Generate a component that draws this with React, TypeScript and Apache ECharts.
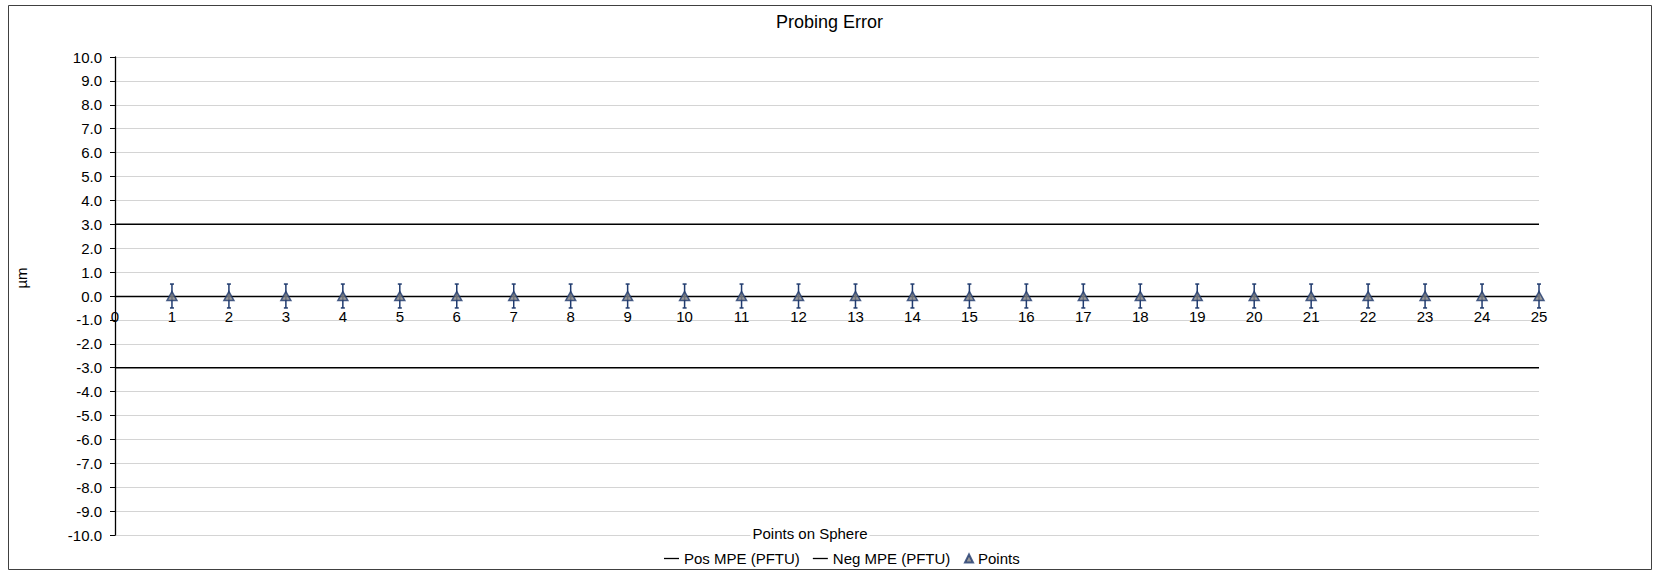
import React, { useEffect, useRef } from "react";
import * as echarts from "echarts";

// ---- data ----
const pointsX = [1, 2, 3, 4, 5, 6, 7, 8, 9, 10, 11, 12, 13, 14, 15, 16, 17, 18, 19, 20, 21, 22, 23, 24, 25];
const pointsY = [0, 0, 0, 0, 0, 0, 0, 0, 0, 0, 0, 0, 0, 0, 0, 0, 0, 0, 0, 0, 0, 0, 0, 0, 0];
const errPlus = [0.5, 0.5, 0.5, 0.5, 0.5, 0.5, 0.5, 0.5, 0.5, 0.5, 0.5, 0.5, 0.5, 0.5, 0.5, 0.5, 0.5, 0.5, 0.5, 0.5, 0.5, 0.5, 0.5, 0.5, 0.5];
const errMinus = [0.5, 0.5, 0.5, 0.5, 0.5, 0.5, 0.5, 0.5, 0.5, 0.5, 0.5, 0.5, 0.5, 0.5, 0.5, 0.5, 0.5, 0.5, 0.5, 0.5, 0.5, 0.5, 0.5, 0.5, 0.5];
const mpeX = [0, 25];
const posMPE = [3.0, 3.0];
const negMPE = [-3.0, -3.0];
const xRange = [0, 25];
const yRange = [-10, 10];
const seriesNames = ["Pos MPE (PFTU)", "Neg MPE (PFTU)", "Points"];
const chartTitle = "Probing Error";
const xTitle = "Points on Sphere";
const yTitle = "µm";

const FONT = "'Liberation Sans', Arial, sans-serif";
const NAVY = "#1F3A6E";
const GRID_TOP = 57;
const GRID_BOTTOM = 36;
const PAGE_H = 571;

export default function App() {
  const ref = useRef<HTMLDivElement>(null);

  useEffect(() => {
    if (!ref.current) return;
    const chart = echarts.init(ref.current, undefined, { renderer: "svg" });

    const plotH = PAGE_H - GRID_TOP - GRID_BOTTOM;
    // distance from the bottom edge of the grid up to the y = 0 line
    const zeroOffset = -(plotH * (0 - yRange[0])) / (yRange[1] - yRange[0]);

    const option: any = {
      animation: false,
      backgroundColor: "#ffffff",
      textStyle: { fontFamily: FONT, color: "#000" },
      title: {
        text: chartTitle,
        left: "center",
        top: 8,
        textStyle: { fontFamily: FONT, fontSize: 18, fontWeight: "normal", color: "#000" },
      },
      grid: { left: 115, right: 120, top: GRID_TOP, bottom: GRID_BOTTOM, containLabel: false },
      xAxis: {
        type: "value",
        position: "bottom",
        offset: zeroOffset,
        min: xRange[0],
        max: xRange[1],
        interval: 1,
        axisLine: { show: true, onZero: false, lineStyle: { color: "#000", width: 1.3 } },
        axisTick: { show: false },
        splitLine: { show: false },
        axisLabel: { fontFamily: FONT, fontSize: 15, color: "#000", margin: 13 },
      },
      yAxis: {
        type: "value",
        min: yRange[0],
        max: yRange[1],
        interval: 1,
        axisLine: { show: true, onZero: false, lineStyle: { color: "#000", width: 1.3 } },
        axisTick: { show: true, inside: false, length: 5, lineStyle: { color: "#000", width: 1 } },
        splitLine: { show: true, lineStyle: { color: "#D4D4D4", width: 1 } },
        axisLabel: {
          fontFamily: FONT,
          fontSize: 15,
          color: "#000",
          margin: 13,
          formatter: (v: number) => v.toFixed(1),
        },
      },
      legend: [
        {
          data: [
            { name: seriesNames[0], icon: "rect" },
            { name: seriesNames[1], icon: "rect" },
          ],
          left: 664,
          top: 551,
          padding: 0,
          itemWidth: 15,
          itemHeight: 1.3,
          itemGap: 13,
          itemStyle: { color: "#000" },
          textStyle: { fontFamily: FONT, fontSize: 15, color: "#000" },
        },
        {
          data: [seriesNames[2]],
          left: 964,
          top: 551,
          padding: 0,
          itemWidth: 8,
          itemHeight: 8,
          textStyle: { fontFamily: FONT, fontSize: 15, color: "#000" },
        },
      ],
      graphic: [
        {
          type: "rect",
          silent: true,
          shape: { x: 8.5, y: 5.5, width: 1643, height: 564 },
          style: { fill: "none", stroke: "#404040", lineWidth: 1 },
          z: 100,
        },
        {
          type: "text",
          x: 810,
          y: 533,
          style: {
            text: xTitle,
            fontFamily: FONT,
            fontSize: 15,
            fill: "#000",
            align: "center",
            verticalAlign: "middle",
            backgroundColor: "#fff",
            padding: [0, 2],
          },
          z: 50,
        },
        {
          type: "text",
          x: 21,
          y: 278,
          rotation: Math.PI / 2,
          style: {
            text: yTitle,
            fontFamily: FONT,
            fontSize: 15,
            fill: "#000",
            align: "center",
            verticalAlign: "middle",
          },
        },
      ],
      series: [
        {
          name: seriesNames[0],
          type: "line",
          data: mpeX.map((x, i) => [x, posMPE[i]]),
          symbol: "none",
          lineStyle: { color: "#000", width: 1.5 },
          itemStyle: { color: "#000" },
          z: 3,
        },
        {
          name: seriesNames[1],
          type: "line",
          data: mpeX.map((x, i) => [x, negMPE[i]]),
          symbol: "none",
          lineStyle: { color: "#000", width: 1.5 },
          itemStyle: { color: "#000" },
          z: 3,
        },
        {
          name: "errorbars",
          type: "custom",
          data: pointsX.map((x, i) => [x, pointsY[i], errMinus[i], errPlus[i]]),
          encode: { x: 0, y: 1 },
          z: 4,
          renderItem: (params: any, api: any) => {
            const x = api.value(0);
            const y = api.value(1);
            const lo = api.coord([x, y - api.value(2)]);
            const hi = api.coord([x, y + api.value(3)]);
            const cap = 2;
            const st = { stroke: NAVY, lineWidth: 1.5 };
            return {
              type: "group",
              children: [
                { type: "line", shape: { x1: hi[0], y1: hi[1], x2: lo[0], y2: lo[1] }, style: st },
                { type: "line", shape: { x1: hi[0] - cap, y1: hi[1], x2: hi[0] + cap, y2: hi[1] }, style: st },
                { type: "line", shape: { x1: lo[0] - cap, y1: lo[1], x2: lo[0] + cap, y2: lo[1] }, style: st },
              ],
            };
          },
        },
        {
          name: seriesNames[2],
          type: "scatter",
          data: pointsX.map((x, i) => [x, pointsY[i]]),
          symbol: "triangle",
          symbolSize: [10, 9],
          itemStyle: { color: "#808080", borderColor: NAVY, borderWidth: 1.5 },
          z: 5,
        },
      ],
    };

    chart.setOption(option);
    return () => chart.dispose();
  }, []);

  return (
    <div
      ref={ref}
      style={{ position: "absolute", left: 0, top: 0, width: 1659, height: 571 }}
    />
  );
}
